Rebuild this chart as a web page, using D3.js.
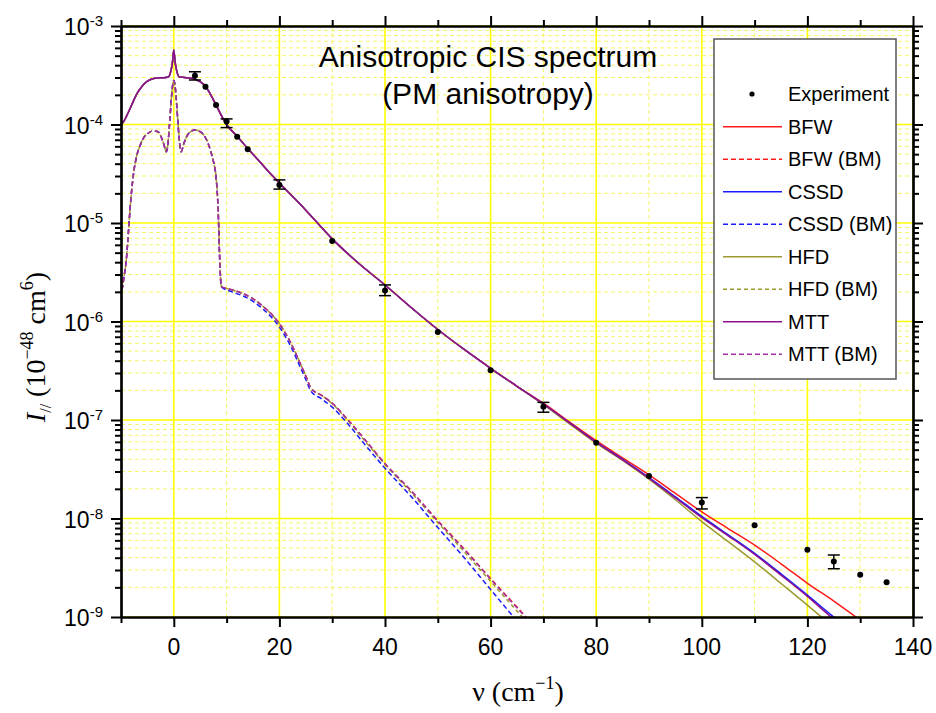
<!DOCTYPE html>
<html>
<head>
<meta charset="utf-8">
<script src="https://cdn.jsdelivr.net/npm/d3@7"></script>
<style>
body { margin: 0; background: #fff; }
text { font-family: "Liberation Sans", Arial, sans-serif; }
.serif { font-family: "Liberation Serif", "Times New Roman", serif; }
</style>
</head>
<body>
<svg id="chart" width="936" height="713"></svg>
<script>
// experiment
var expNu = [4, 6, 8, 10, 12, 14, 20, 30, 40, 50, 60, 70, 80, 90, 100, 110, 120, 125, 130, 135];
var expI = [3.13e-4, 2.42e-4, 1.58e-4, 1.07e-4, 7.5e-5, 5.6e-5, 2.43e-5, 6.56e-6, 2.06e-6, 7.82e-7,
            3.2e-7, 1.36e-7, 5.89e-8, 2.7e-8, 1.45e-8, 8.53e-9, 4.82e-9, 3.67e-9, 2.69e-9, 2.25e-9];
var errNu = [4, 10, 20, 40, 70, 100, 125];
var errHi = [3.43e-4, 1.14e-4, 2.74e-5, 2.35e-6, 1.51e-7, 1.63e-8, 4.26e-9];
var errLo = [2.83e-4, 9.3e-5, 2.21e-5, 1.83e-6, 1.2e-7, 1.25e-8, 3.09e-9];

// full calculations (shared part up to 65 cm-1, then each model)
var nuSolid = [-10, -9.5, -9, -8, -7, -6, -5, -4, -3, -2, -1, -0.5, -0.25, 0, 0.25, 0.5, 1, 2, 3, 4, 5, 6, 7, 8, 9, 10,
               12, 14, 16, 18, 20, 25, 30, 35, 40, 45, 50, 55, 60, 65];
var solidCommon = [1.0e-4, 1.07e-4, 1.2e-4, 1.57e-4, 2.05e-4, 2.45e-4, 2.75e-4, 2.92e-4, 2.97e-4, 2.98e-4, 3.05e-4,
                   3.6e-4, 4.3e-4, 5.7e-4, 4.3e-4, 3.6e-4, 3.05e-4, 3.0e-4, 2.96e-4, 2.88e-4, 2.72e-4, 2.45e-4,
                   2.0e-4, 1.58e-4, 1.24e-4, 1.0e-4, 7.6e-5, 5.7e-5, 4.35e-5, 3.3e-5, 2.55e-5, 1.35e-5, 6.9e-6,
                   3.9e-6, 2.35e-6, 1.38e-6, 8.3e-7, 5.2e-7, 3.35e-7, 2.2e-7];
var nuTail = [70, 75, 80, 85, 90, 95, 100, 105, 110, 115, 120, 125, 130];
var bfwTail = [1.48e-7, 9.5e-8, 6.17e-8, 4.12e-8, 2.77e-8, 1.8e-8, 1.17e-8, 7.9e-9, 5.37e-9, 3.47e-9, 2.2e-9, 1.45e-9, 9.3e-10];
var cssdTail = [1.45e-7, 9.3e-8, 5.96e-8, 3.98e-8, 2.6e-8, 1.66e-8, 1.05e-8, 6.84e-9, 4.44e-9, 2.75e-9, 1.67e-9, 1.0e-9, 6.3e-10];
var hfdTail = [1.43e-7, 9.1e-8, 5.82e-8, 3.89e-8, 2.51e-8, 1.55e-8, 9.3e-9, 5.82e-9, 3.63e-9, 2.19e-9, 1.32e-9, 7.9e-10, 5.0e-10];
var mttTail = [1.45e-7, 9.3e-8, 5.92e-8, 3.94e-8, 2.56e-8, 1.62e-8, 1.02e-8, 6.68e-9, 4.32e-9, 2.66e-9, 1.62e-9, 9.5e-10, 6.0e-10];

// bound-bound removed (BM) curves
var nuBM = [-9.8, -9.4, -9, -8.6, -8.3, -7.7, -7.07, -6.4, -5.8, -4.8, -3.9, -3, -2.4, -1.9, -1.4, 0, 1.4, 1.9, 2.4,
            3.1, 4, 4.9, 5.6, 6.2, 6.7, 7.1, 7.6, 8, 8.4, 8.7, 9];
var bmCommon = [2.1e-6, 2.9e-6, 4.2e-6, 8.0e-6, 1.35e-5, 2.95e-5, 4.7e-5, 6.1e-5, 7.2e-5, 8.2e-5, 8.6e-5, 8.45e-5,
                7.5e-5, 6.3e-5, 5.3e-5, 2.8e-4, 5.3e-5, 6.4e-5, 7.5e-5, 8.4e-5, 8.8e-5, 8.5e-5, 7.9e-5, 7.0e-5,
                6.0e-5, 5.1e-5, 4.0e-5, 2.95e-5, 1.35e-5, 4.2e-6, 2.26e-6];
var nuBMTail = [11, 13, 15, 17, 20, 22, 24, 25, 26, 28, 30, 33, 36, 40, 45, 50, 55, 60, 65, 70];
var bfwBMTail = [2.1e-6, 1.93e-6, 1.7e-6, 1.41e-6, 9.5e-7, 6.3e-7, 3.7e-7, 2.8e-7, 2.1e-7, 1.78e-7, 1.48e-7, 1.0e-7,
                 6.5e-8, 3.6e-8, 1.9e-8, 9.5e-9, 4.9e-9, 2.45e-9, 1.26e-9, 6.3e-10];
var cssdBMTail = [2.0e-6, 1.83e-6, 1.6e-6, 1.32e-6, 8.8e-7, 5.8e-7, 3.4e-7, 2.58e-7, 1.95e-7, 1.64e-7, 1.35e-7, 9.1e-8,
                  5.8e-8, 3.24e-8, 1.66e-8, 8.1e-9, 4.0e-9, 1.9e-9, 9.1e-10, 4.4e-10];
var hfdBMTail = [2.1e-6, 1.93e-6, 1.7e-6, 1.41e-6, 9.5e-7, 6.3e-7, 3.7e-7, 2.8e-7, 2.1e-7, 1.77e-7, 1.46e-7, 9.8e-8,
                 6.3e-8, 3.55e-8, 1.82e-8, 9.1e-9, 4.6e-9, 2.3e-9, 1.15e-9, 5.8e-10];
var mttBMTail = [2.1e-6, 1.93e-6, 1.7e-6, 1.41e-6, 9.5e-7, 6.3e-7, 3.7e-7, 2.8e-7, 2.1e-7, 1.78e-7, 1.48e-7, 1.0e-7,
                 6.5e-8, 3.6e-8, 1.9e-8, 9.4e-9, 4.85e-9, 2.43e-9, 1.24e-9, 6.3e-10];

var seriesNames = ["BFW", "BFW (BM)", "CSSD", "CSSD (BM)", "HFD", "HFD (BM)", "MTT", "MTT (BM)"];
var xTickVals = [-10, 0, 10, 20, 30, 40, 50, 60, 70, 80, 90, 100, 110, 120, 130, 140];
var xTickLabels = ["0", "20", "40", "60", "80", "100", "120", "140"];

var pL = 121, pR = 913, pT = 26, pB = 617;
var svg = d3.select("#chart");

var x = d3.scaleLinear().domain([-10, 140]).range([pL, pR]);
var y = d3.scaleLog().domain([1e-9, 1e-3]).range([pB, pT]);

var isDecade = function(d) { var l = Math.log10(d); return Math.abs(l - Math.round(l)) < 1e-6; };
var yMajor = y.ticks().filter(isDecade);
var yMinor = y.ticks().filter(function(d) { return !isDecade(d); });
var xMajor = xTickVals.filter(function(d) { return d % 20 === 0; });
var xMinor = xTickVals.filter(function(d) { return d % 20 !== 0; });

var color = {"BFW": "#ff1a1a", "CSSD": "#1a1aff", "HFD": "#9a9a30", "MTT": "#8e108e"};

// grid
var grid = svg.append("g");
grid.selectAll(".hmin").data(yMinor).enter().append("line")
    .attr("x1", pL).attr("x2", pR).attr("y1", y).attr("y2", y)
    .attr("stroke", "#f4f45a").attr("stroke-width", 0.9).attr("stroke-dasharray", "4,3");
grid.selectAll(".vmin").data(xMinor.filter(function(d) { return d > -10; })).enter().append("line")
    .attr("y1", pT).attr("y2", pB).attr("x1", x).attr("x2", x)
    .attr("stroke", "#f4f45a").attr("stroke-width", 0.9).attr("stroke-dasharray", "4,3");
grid.selectAll(".hmaj").data(yMajor).enter().append("line")
    .attr("x1", pL).attr("x2", pR).attr("y1", y).attr("y2", y)
    .attr("stroke", "#ffff00").attr("stroke-width", 1.6);
grid.selectAll(".vmaj").data(xMajor).enter().append("line")
    .attr("y1", pT).attr("y2", pB).attr("x1", x).attr("x2", x)
    .attr("stroke", "#ffff00").attr("stroke-width", 1.6);

// title
svg.append("text").attr("x", 488).attr("y", 67).attr("text-anchor", "middle")
    .attr("font-size", 30).text("Anisotropic CIS spectrum");
svg.append("text").attr("x", 488).attr("y", 104).attr("text-anchor", "middle")
    .attr("font-size", 30).text("(PM anisotropy)");

// curves
svg.append("clipPath").attr("id", "clip").append("rect")
    .attr("x", pL).attr("y", pT).attr("width", pR - pL).attr("height", pB - pT);

var pairs = function(xs, ys) { return xs.map(function(v, i) { return [v, ys[i]]; }); };
var series = [
    {name: "BFW", c: color.BFW, dash: null, pts: pairs(nuSolid.concat(nuTail), solidCommon.concat(bfwTail))},
    {name: "BFW (BM)", c: color.BFW, dash: "5,3", pts: pairs(nuBM.concat(nuBMTail), bmCommon.concat(bfwBMTail))},
    {name: "CSSD", c: color.CSSD, dash: null, pts: pairs(nuSolid.concat(nuTail), solidCommon.concat(cssdTail))},
    {name: "CSSD (BM)", c: color.CSSD, dash: "5,3", pts: pairs(nuBM.concat(nuBMTail), bmCommon.concat(cssdBMTail))},
    {name: "HFD", c: color.HFD, dash: null, pts: pairs(nuSolid.concat(nuTail), solidCommon.concat(hfdTail))},
    {name: "HFD (BM)", c: color.HFD, dash: "4,3", pts: pairs(nuBM.concat(nuBMTail), bmCommon.concat(hfdBMTail))},
    {name: "MTT", c: color.MTT, dash: null, pts: pairs(nuSolid.concat(nuTail), solidCommon.concat(mttTail))},
    {name: "MTT (BM)", c: "#a030a0", dash: "5,3", pts: pairs(nuBM.concat(nuBMTail), bmCommon.concat(mttBMTail))}
];

var line = d3.line().x(function(d) { return x(d[0]); }).y(function(d) { return y(d[1]); })
    .curve(d3.curveMonotoneX);

var curves = svg.append("g").attr("clip-path", "url(#clip)");
series.forEach(function(s) {
    curves.append("path").datum(s.pts)
        .attr("fill", "none").attr("stroke", s.c).attr("stroke-width", 1.5)
        .attr("stroke-dasharray", s.dash).attr("stroke-linejoin", "round")
        .attr("d", line);
});

// error bars + points
var eb = svg.append("g").attr("stroke", "#000").attr("stroke-width", 1.5);
errNu.forEach(function(n, i) {
    eb.append("line").attr("x1", x(n)).attr("x2", x(n)).attr("y1", y(errHi[i])).attr("y2", y(errLo[i]));
    eb.append("line").attr("x1", x(n) - 6).attr("x2", x(n) + 6).attr("y1", y(errHi[i])).attr("y2", y(errHi[i]));
    eb.append("line").attr("x1", x(n) - 6).attr("x2", x(n) + 6).attr("y1", y(errLo[i])).attr("y2", y(errLo[i]));
});
svg.append("g").selectAll("circle").data(expNu).enter().append("circle")
    .attr("cx", function(d) { return x(d); })
    .attr("cy", function(d, i) { return y(expI[i]); })
    .attr("r", 3).attr("fill", "#000");

// legend
var lg = svg.append("g");
lg.append("rect").attr("x", 714).attr("y", 39).attr("width", 182).attr("height", 340)
    .attr("fill", "#fff").attr("stroke", "#555").attr("stroke-width", 1.5);
lg.append("circle").attr("cx", 752).attr("cy", 94).attr("r", 2.6).attr("fill", "#000");
lg.append("text").attr("x", 788).attr("y", 101).attr("font-size", 20).text("Experiment");
series.forEach(function(s, i) {
    var yy = 126.7 + i * 32.5;
    lg.append("line").attr("x1", 723).attr("x2", 782).attr("y1", yy).attr("y2", yy)
        .attr("stroke", s.c).attr("stroke-width", 1.5).attr("stroke-dasharray", s.dash);
    lg.append("text").attr("x", 788).attr("y", yy + 7).attr("font-size", 20).text(s.name);
});

// axes
var styleAxis = function(g) {
    g.selectAll(".domain").attr("stroke", "#000").attr("stroke-width", 2.2);
    g.selectAll(".tick line").attr("stroke", "#000").attr("stroke-width", 2);
};
var addAxis = function(axisFn, scale, transform, major, minor, majLen, minLen) {
    svg.append("g").attr("transform", transform)
        .call(axisFn(scale).tickValues(minor).tickSize(minLen).tickSizeOuter(0).tickFormat(""))
        .call(styleAxis);
    svg.append("g").attr("transform", transform)
        .call(axisFn(scale).tickValues(major).tickSize(majLen).tickSizeOuter(0).tickFormat(""))
        .call(styleAxis);
};
addAxis(d3.axisBottom, x, "translate(0," + pB + ")", xMajor, xMinor, 10, 6);
addAxis(d3.axisTop, x, "translate(0," + pT + ")", xMajor, xMinor, 10, 6);
addAxis(d3.axisLeft, y, "translate(" + pL + ",0)", yMajor, yMinor, 10, 6);
addAxis(d3.axisRight, y, "translate(" + pR + ",0)", yMajor, yMinor, 10, 6);

// tick labels
svg.append("g").selectAll("text").data(xMajor).enter().append("text")
    .attr("x", function(d) { return x(d); }).attr("y", 655)
    .attr("text-anchor", "middle").attr("font-size", 23)
    .text(function(d, i) { return xTickLabels[i]; });

var yl = svg.append("g").selectAll("text").data(yMajor).enter().append("text")
    .attr("x", 103).attr("y", function(d) { return y(d) + 9; })
    .attr("text-anchor", "end").attr("font-size", 23);
yl.append("tspan").text("10");
yl.append("tspan").attr("dy", -9).attr("font-size", 15)
    .text(function(d) { return "-" + Math.round(-Math.log10(d)); });

// axis titles
var xt = svg.append("text").attr("class", "serif").attr("x", 518).attr("y", 701)
    .attr("text-anchor", "middle").attr("font-size", 28);
xt.append("tspan").text("\u03bd (cm");
xt.append("tspan").attr("dy", -12).attr("font-size", 18).text("\u22121");
xt.append("tspan").attr("dy", 12).text(")");

var yt = svg.append("text").attr("class", "serif")
    .attr("transform", "translate(45,347) rotate(-90)")
    .attr("text-anchor", "middle").attr("font-size", 28);
yt.append("tspan").attr("font-style", "italic").text("I");
yt.append("tspan").attr("dy", 6).attr("font-size", 16).text("//");
yt.append("tspan").attr("dy", -6).text(" (10");
yt.append("tspan").attr("dy", -12).attr("font-size", 18).text("\u221248");
yt.append("tspan").attr("dy", 12).text(" cm");
yt.append("tspan").attr("dy", -12).attr("font-size", 18).text("6");
yt.append("tspan").attr("dy", 12).text(")");
</script>
</body>
</html>
